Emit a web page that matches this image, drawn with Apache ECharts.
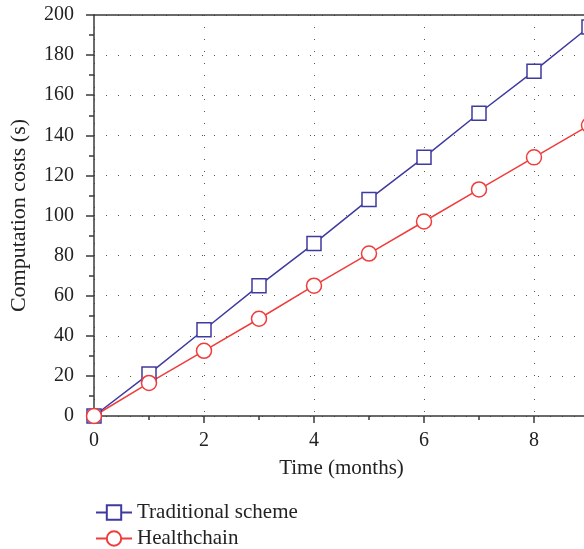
<!DOCTYPE html>
<html><head><meta charset="utf-8">
<script src="https://cdn.jsdelivr.net/npm/echarts@6/dist/echarts.min.js"></script>
<style>html,body{margin:0;padding:0;background:#fff;overflow:hidden}#c{width:590px;height:549px}</style>
</head><body><div id="c"></div>
<script>
const months = [0, 1, 2, 3, 4, 5, 6, 7, 8, 9];
const traditional = [0, 21, 43, 65, 86, 108, 129, 151, 172, 194];
const healthchain = [0, 16.5, 32.5, 48.5, 65, 81, 97, 113, 129, 145];
const seriesNames = ['Traditional scheme', 'Healthchain'];
const xName = 'Time (months)';
const yName = 'Computation costs (s)';

const font = 'Liberation Serif';
const axisColor = '#3a3a3a';
const dotted = {color: '#555', width: 1, type: [1, 11]};
const legendText = {fontFamily: font, fontSize: 21, color: '#222'};
const chart = echarts.init(document.getElementById('c'));
chart.setOption({
  animation: false,
  grid: {left: 91, right: 1, top: 15, bottom: 133},
  xAxis: [{
    type: 'value', min: 0, max: 9, interval: 2,
    name: xName, nameLocation: 'middle', nameGap: 42,
    nameTextStyle: {fontFamily: font, fontSize: 21, color: '#222'},
    axisLine: {lineStyle: {color: axisColor, width: 1.5}},
    axisTick: {length: 7, lineStyle: {color: axisColor, width: 1.5}},
    minorTick: {show: true, splitNumber: 2, length: 4, lineStyle: {color: axisColor, width: 1.5}},
    axisLabel: {fontFamily: font, fontSize: 20, color: '#222', margin: 15, showMaxLabel: false},
    splitLine: {show: true, lineStyle: dotted}
  }, {
    type: 'value', position: 'top', min: 0, max: 9,
    axisLine: {show: true, lineStyle: {color: axisColor, width: 1.5}},
    axisTick: {show: false}, axisLabel: {show: false}, splitLine: {show: false}
  }],
  yAxis: {
    type: 'value', min: 0, max: 200, interval: 20,
    name: yName, nameLocation: 'middle', nameGap: 64, nameRotate: 90,
    nameTextStyle: {fontFamily: font, fontSize: 22, color: '#222'},
    axisLine: {show: true, lineStyle: {color: axisColor, width: 1.5}},
    axisTick: {show: true, length: 8, lineStyle: {color: axisColor, width: 1.5}},
    minorTick: {show: true, splitNumber: 2, length: 5, lineStyle: {color: axisColor, width: 1.5}},
    axisLabel: {fontFamily: font, fontSize: 20, color: '#222', margin: 20},
    splitLine: {show: true, lineStyle: dotted}
  },
  legend: [{
    left: 90, top: 497, itemWidth: 36, itemHeight: 18, itemGap: 10,
    textStyle: legendText, data: [seriesNames[0]]
  }, {
    left: 90, top: 523, itemWidth: 36, itemHeight: 18, itemGap: 10,
    textStyle: legendText, data: [seriesNames[1]]
  }],
  series: [{
    name: seriesNames[0], type: 'line', data: months.map((m, i) => [m, traditional[i]]),
    symbol: 'rect', symbolSize: 14, showAllSymbol: true,
    lineStyle: {color: '#3f3aa0', width: 1.5},
    itemStyle: {color: '#fff', borderColor: '#3f3aa0', borderWidth: 1.5}
  }, {
    name: seriesNames[1], type: 'line', data: months.map((m, i) => [m, healthchain[i]]),
    symbol: 'circle', symbolSize: 15, showAllSymbol: true,
    lineStyle: {color: '#f03c3c', width: 1.5},
    itemStyle: {color: '#fff', borderColor: '#f03c3c', borderWidth: 1.5}
  }]
});
</script></body></html>
